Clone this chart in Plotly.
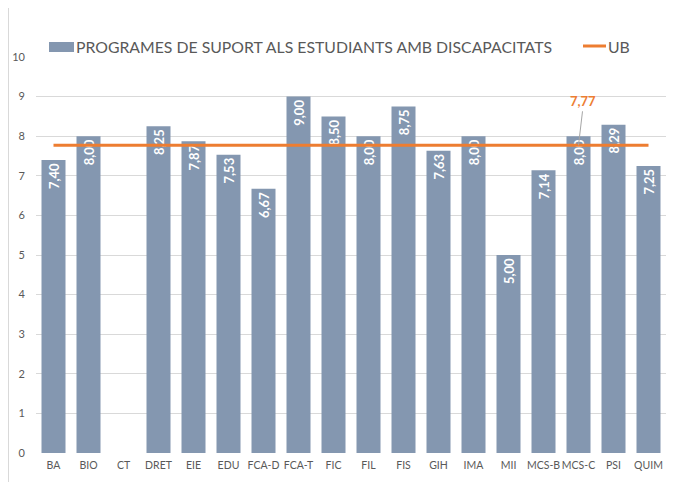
import plotly.graph_objects as go

categories = ["BA", "BIO", "CT", "DRET", "EIE", "EDU", "FCA-D", "FCA-T", "FIC", "FIL",
              "FIS", "GIH", "IMA", "MII", "MCS-B", "MCS-C", "PSI", "QUIM"]
values = [7.40, 8.00, None, 8.25, 7.87, 7.53, 6.67, 9.00, 8.50, 8.00,
          8.75, 7.63, 8.00, 5.00, 7.14, 8.00, 8.29, 7.25]
ub_value = 7.77
ub_series = [ub_value] * len(categories)
y_ticks = list(range(0, 11))
bar_name = "PROGRAMES DE SUPORT ALS ESTUDIANTS AMB DISCAPACITATS"
line_name = "UB"

def fmt(v):
    return "" if v is None else f"{v:.2f}".replace(".", ",")

FONT = "Lato, Liberation Sans, sans-serif"
GRAY = "#595959"
BAR = "#8497B0"
ORANGE = "#ED7D31"

# page offset of the figure inside the html body
OFF = 8
W, H = 666, 474
L, R, T, B = 28, 8, 49, 29
PW, PH = W - L - R, H - T - B

def px(xp):  # page x -> paper
    return (xp - OFF - L) / PW

def py(yp):  # page y -> paper
    return (H - B - (yp - OFF)) / PH

fig = go.Figure()
fig.add_trace(go.Bar(
    x=categories, y=values, name=bar_name,
    marker=dict(color=BAR, line=dict(width=0)),
    text=[fmt(v) for v in values],
    textposition="inside", insidetextanchor="end", textangle=-90,
    textfont=dict(color="white", size=13, family=FONT, weight="bold"),
    showlegend=False,
))
fig.add_trace(go.Scatter(
    x=categories, y=ub_series, name=line_name, mode="lines",
    line=dict(color=ORANGE, width=3), showlegend=False,
))

fig.add_annotation(
    x="MCS-C", y=ub_value, text="<b>7,77</b>",
    showarrow=True, arrowhead=0, arrowwidth=1, arrowcolor="#A6A6A6",
    ax=4, ay=-34, font=dict(color=ORANGE, size=13, family=FONT),
    yanchor="bottom", standoff=0,
)

# manual legend
fig.add_shape(type="rect", xref="paper", yref="paper",
              x0=px(49), x1=px(74), y0=py(52), y1=py(42),
              fillcolor=BAR, line=dict(width=0))
fig.add_annotation(xref="paper", yref="paper", x=px(74), y=py(47),
                   xanchor="left", yanchor="middle", showarrow=False,
                   text=bar_name, font=dict(size=15.8, color=GRAY, family=FONT))
fig.add_shape(type="line", xref="paper", yref="paper",
              x0=px(583), x1=px(606), y0=py(46), y1=py(46),
              line=dict(color=ORANGE, width=3))
fig.add_annotation(xref="paper", yref="paper", x=px(606), y=py(47),
                   xanchor="left", yanchor="middle", showarrow=False,
                   text=line_name, font=dict(size=15.8, color=GRAY, family=FONT))

# chart border (left edge)
fig.add_shape(type="line", xref="paper", yref="paper",
              x0=px(8.5), x1=px(8.5), y0=py(482), y1=py(8),
              line=dict(color="#D9D9D9", width=1))

fig.update_layout(
    width=W, height=H,
    margin=dict(l=L, r=R, t=T, b=B, autoexpand=False),
    paper_bgcolor="white", plot_bgcolor="white",
    font=dict(family=FONT, color=GRAY),
    bargap=0.314,
    showlegend=False,
    uniformtext=dict(minsize=11, mode="show"),
    xaxis=dict(showgrid=False, showline=False, ticks="", automargin=False, tickangle=0,
               tickfont=dict(size=10.5, color=GRAY), ticklabelstandoff=4),
    yaxis=dict(range=[0, 10], tickvals=y_ticks, showgrid=True, gridcolor="#D9D9D9",
               gridwidth=1, zeroline=False, showline=False, ticks="", automargin=False,
               tickfont=dict(size=11, color=GRAY), ticklabelstandoff=10),
)

fig.write_html("out.html")
